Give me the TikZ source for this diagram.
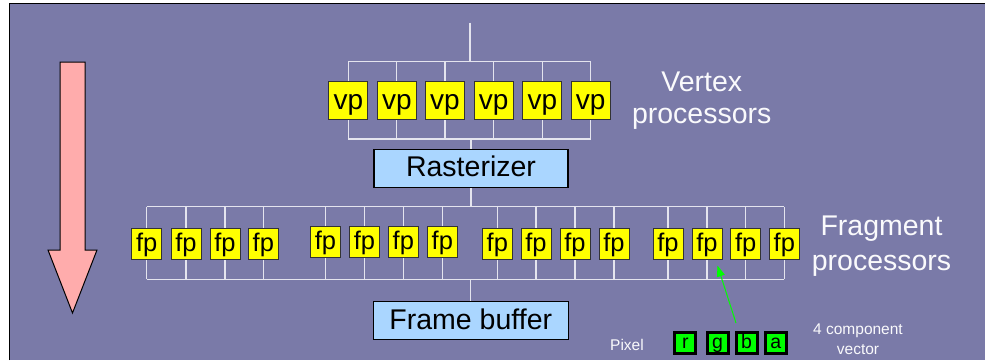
\documentclass[tikz,border=0pt]{standalone}
\usepackage{fontspec}
\setmainfont{Liberation Sans}
\usetikzlibrary{arrows.meta}

\definecolor{slide}{RGB}{122,122,168}
\definecolor{busline}{RGB}{228,228,238}
\definecolor{procyellow}{RGB}{255,255,0}
\definecolor{stageblue}{RGB}{170,214,255}
\definecolor{flowpink}{RGB}{255,172,172}
\definecolor{changreen}{RGB}{0,255,0}
\definecolor{labelwhite}{RGB}{250,250,252}

\begin{document}
\begin{tikzpicture}[x=1pt,y=-1pt,
  bus/.style={draw=busline,line width=1.3pt},
  procbox/.style={draw=black!80,line width=0.9pt,fill=procyellow,inner sep=0pt},
  vpbox/.style={procbox,minimum width=39pt,minimum height=38pt,
    font=\fontsize{28}{30}\selectfont,text height=25pt,text depth=6pt},
  fpbox/.style={procbox,minimum width=30pt,minimum height=31pt,
    font=\fontsize{25.5}{28}\selectfont,text height=20.4pt,text depth=6pt},
  stagebox/.style={draw=black,line width=1.2pt,fill=stageblue,inner sep=0pt,
    minimum width=194pt,minimum height=38pt,
    font=\fontsize{28.5}{30}\selectfont,text height=23.5pt,text depth=6pt},
  chanbox/.style={draw=black,line width=3pt,fill=changreen,inner sep=0pt,
    minimum size=21pt,font=\fontsize{19.5}{20}\selectfont,
    text height=14.6pt,text depth=4pt},
  biglabel/.style={text=labelwhite,align=center,inner sep=0pt,anchor=base},
  smalllabel/.style={text=labelwhite,inner sep=0pt,font=\fontsize{15.5}{19.5}\selectfont},
  pointer/.style={draw=changreen,line width=1pt,
    -{Triangle[length=11pt,width=8pt]}},
  flow/.style={draw=black,line width=1pt,fill=flowpink,line join=miter}]

\useasboundingbox (0,0) rectangle (985,360);
\fill[white] (0,0) rectangle (985,360);
\fill[slide] (9,3) rectangle (985,360);
\draw[black,line width=1pt] (9,360) -- (9,3) -- (985,3);

% pipeline direction arrow
\draw[flow] (60,62) -- (85,62) -- (85,250) -- (97,250) -- (72.5,313)
  -- (48,250) -- (60,250) -- cycle;

% bus levels
\coordinate (vin) at (470,22.7);
\coordinate (vtop) at (0,61.7);
\coordinate (vbot) at (0,139);
\coordinate (ftop) at (0,206.7);
\coordinate (fbot) at (0,279.3);

% vertex processor columns
\foreach \x [count=\i] in {348.3,396.8,445,493.7,542.3,590.7}
  \coordinate (vc\i) at (\x,100.3);

% fragment processor columns
\foreach \x/\y [count=\i] in {146.7/243.8,186/243.8,225/243.8,263.3/243.8,
    325.5/241.9,364.5/241.9,403.3/241.9,442.3/241.9,
    497.3/244.2,536/244.2,575/244.2,614/244.2,
    668/244.2,707/244.2,745.7/244.2,784.3/244.2}
  \coordinate (fc\i) at (\x,\y);

% stages
\node[stagebox] (rast) at (471,168.2) {Rasterizer};
\node[stagebox,minimum width=195pt] (fb) at (470.8,320.8) {Frame buffer};

% vertex buses
\draw[bus] (vin) -- (vin |- vtop);
\draw[bus] (vc1 |- vtop) -- (vc6 |- vtop);
\draw[bus] (vc1 |- vbot) -- (vc6 |- vbot);
\foreach \i in {1,...,6}
  \draw[bus] (vc\i |- vtop) -- (vc\i |- vbot);
\draw[bus] (rast.north |- vbot) -- (rast.north);

% fragment buses
\draw[bus] (rast.south) -- (rast.south |- ftop);
\draw[bus] (fc1 |- ftop) -- (fc16 |- ftop);
\draw[bus] (fc1 |- fbot) -- (fc16 |- fbot);
\foreach \i in {1,...,16}
  \draw[bus] (fc\i |- ftop) -- (fc\i |- fbot);
\draw[bus] (fb.north |- fbot) -- (fb.north);

% processors
\foreach \i in {1,...,6}
  \node[vpbox] (vp\i) at (vc\i) {vp};
\foreach \i in {1,...,16}
  \node[fpbox] (fp\i) at (fc\i) {fp};

% labels (base anchor sits on the last line)
\node[biglabel,font=\fontsize{28.5}{31.6}\selectfont] (vlabel) at (701.7,123.3)
  {Vertex\\processors};
\node[biglabel,font=\fontsize{28.5}{35.7}\selectfont] (flabel) at (881.5,270.7)
  {Fragment\\processors};

% pixel as a four component vector
\node[smalllabel,anchor=base west] (pixlabel) at (610,350) {Pixel};
\node[chanbox] (chr) at (685.3,343) {r};
\node[chanbox] (chg) at (717.5,343) {g};
\node[chanbox] (chb) at (746.5,343) {b};
\node[chanbox] (cha) at (775.8,343) {a};
\node[smalllabel,align=center,anchor=base] (veclabel) at (858,354)
  {4 component\\vector};

\coordinate (ptr) at (736,323);
\coordinate (ptrtip) at (717.5,265.5);
\draw[pointer] (ptr) -- (ptrtip);
\end{tikzpicture}
\end{document}
